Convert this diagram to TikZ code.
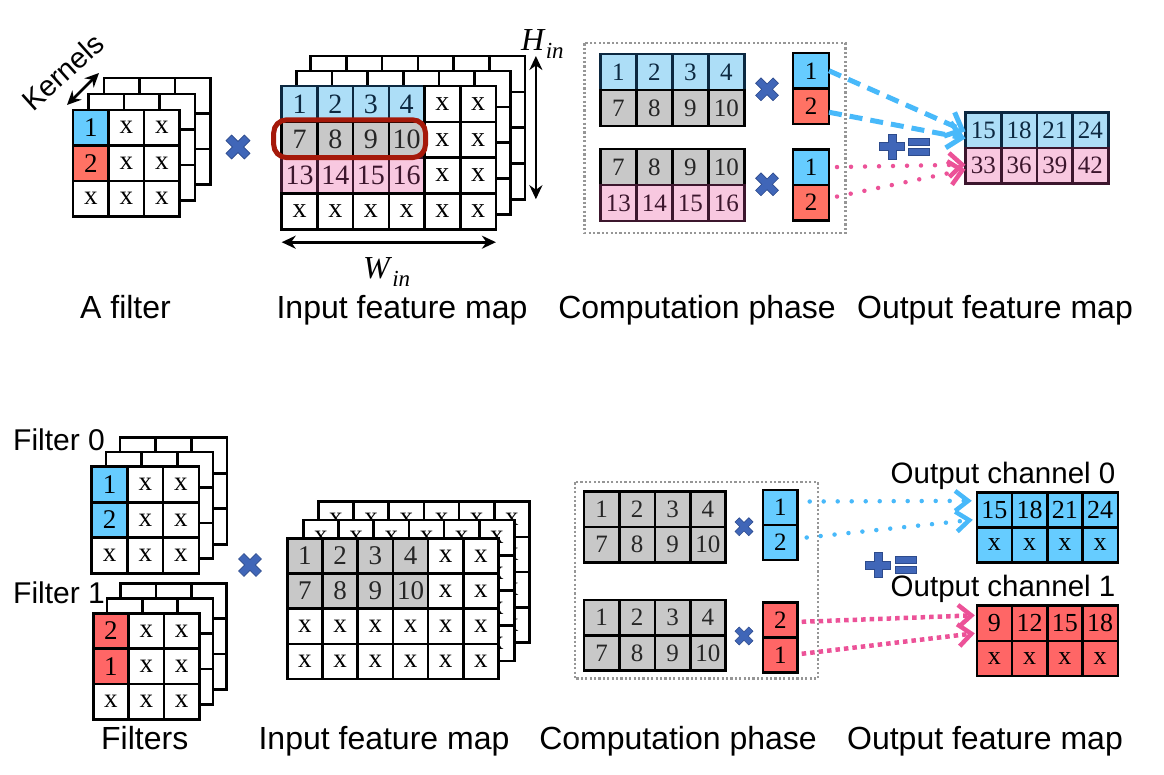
\documentclass[tikz,border=0pt]{standalone}
\usepackage{fontspec}
\setmainfont{Liberation Serif}
\setsansfont{Liberation Sans}
\usetikzlibrary{arrows.meta}

\definecolor{kblue}{RGB}{102,204,255}
\definecolor{kred}{RGB}{255,114,100}
\definecolor{kredb}{RGB}{255,102,102}
\definecolor{lblue}{RGB}{173,222,247}
\definecolor{lgray}{RGB}{200,200,200}
\definecolor{lpink}{RGB}{248,200,224}
\definecolor{navy}{RGB}{12,40,64}
\definecolor{plum}{RGB}{60,22,45}
\definecolor{arrblue}{RGB}{72,185,250}
\definecolor{arrpink}{RGB}{236,82,152}
\definecolor{xblue}{RGB}{64,102,184}
\definecolor{xedge}{RGB}{45,75,140}
\definecolor{ringred}{RGB}{165,25,10}
\definecolor{boxgray}{RGB}{150,150,150}

\tikzset{
  cell/.style n args={3}{draw=black, line width=2.6pt, fill=white, text=black,
    minimum width=#1pt, minimum height=#2pt, inner sep=0pt, outer sep=0pt,
    anchor=north west, font=\fontsize{#3}{#3}\selectfont},
  cw/.style={},
  lb/.style={fill=lblue, draw=navy, text=navy},
  gr/.style={fill=lgray, text=black!85},
  pk/.style={fill=lpink, draw=plum, text=plum},
  kb/.style={fill=kblue},
  kr/.style={fill=kred},
  krb/.style={fill=kredb},
  lbl/.style={font=\sffamily\fontsize{32}{32}\selectfont, anchor=base, inner sep=0pt},
  chan/.style={font=\sffamily\fontsize{29.5}{29.5}\selectfont, anchor=base west, inner sep=0pt},
  dim/.style={<->, >={Stealth[length=14pt,width=13pt]}, line width=2.6pt},
  ring/.style={draw=ringred, line width=5pt, rounded corners=13pt},
  compbox/.style={draw=boxgray, line width=2.2pt, dash pattern=on 2.2pt off 2.2pt},
  bluedash/.style={draw=arrblue, line width=5pt, dash pattern=on 13pt off 8pt,
    -{Straight Barb[length=14pt,width=26pt]}},
  pinkdot/.style={draw=arrpink, line width=4.5pt, line cap=round, dash pattern=on 0pt off 14pt,
    -{Straight Barb[length=13pt,width=24pt]}},
  bluedot/.style={draw=arrblue, line width=4.5pt, line cap=round, dash pattern=on 0pt off 14pt,
    -{Straight Barb[length=13pt,width=20pt]}},
  pinksq/.style={draw=arrpink, line width=4.5pt, dash pattern=on 4.5pt off 4pt,
    -{Straight Barb[length=13pt,width=22pt]}},
  mul/.pic={\filldraw[fill=xblue, draw=xedge, line width=0.6pt, rotate=45]
    (-4,-13)--(4,-13)--(4,-4)--(13,-4)--(13,4)--(4,4)--(4,13)--(-4,13)--(-4,4)--(-13,4)--(-13,-4)--(-4,-4)--cycle;},
  plusmark/.pic={\filldraw[fill=xblue, draw=xedge, line width=0.8pt]
    (-4,-12.5)--(4,-12.5)--(4,-4)--(12.5,-4)--(12.5,4)--(4,4)--(4,12.5)--(-4,12.5)--(-4,4)--(-12.5,4)--(-12.5,-4)--(-4,-4)--cycle;},
  eqmark/.pic={\filldraw[fill=xblue, draw=xedge, line width=0.8pt]
    (-10.5,-8.5) rectangle (10.5,-1.5) (-10.5,1.5) rectangle (10.5,8.5);}
}

% name, x, y, cell width, cell height, font size, rows
\newcommand\cellgrid[7]{%
  \foreach \row [count=\rw] in {#7}{%
    \foreach \val/\sty [count=\cl] in \row{%
      \node[cell={#4}{#5}{#6},\sty] (#1-\rw-\cl) at ({#2+(\cl-1)*#4},{#3+(\rw-1)*#5}) {\val};}}}
% name, x, y, cell width, cell height, cols, rows, font size, text
\newcommand\backgrid[9]{%
  \foreach \rw in {1,...,#7}{%
    \foreach \cl in {1,...,#6}{%
      \node[cell={#4}{#5}{#8}] (#1-\rw-\cl) at ({#2+(\cl-1)*#4},{#3+(\rw-1)*#5}) {#9};}}}

\begin{document}
\begin{tikzpicture}[x=1pt,y=-1pt]
\useasboundingbox (0,0) rectangle (1164,774);

% ---- top: one filter ----
\backgrid{fl3}{104}{78}{35.5}{35.5}{3}{3}{27}{}
\backgrid{fl2}{88.5}{94}{35.5}{35.5}{3}{3}{27}{}
\cellgrid{fl}{73}{110}{35.5}{35.5}{27}{{1/kb,x/cw,x/cw},{2/kr,x/cw,x/cw},{x/cw,x/cw,x/cw}}
\node[font=\sffamily\fontsize{29}{29}\selectfont, rotate=42] (kern) at (63,72) {Kernels};
\draw[dim] ([shift={(-6,-5)}]fl-1-1.north west) -- ([shift={(-5,-5)}]fl3-1-1.north west);
\pic at (238,147) {mul};

% ---- top: input feature map ----
\backgrid{ti3}{310.7}{56}{35.7}{35.8}{6}{4}{28}{}
\backgrid{ti2}{296.2}{71}{35.7}{35.8}{6}{4}{28}{}
\cellgrid{ti}{281.7}{86}{35.7}{35.8}{28}{{1/lb,2/lb,3/lb,4/lb,x/cw,x/cw},{7/gr,8/gr,9/gr,10/gr,x/cw,x/cw},{13/pk,14/pk,15/pk,16/pk,x/cw,x/cw},{x/cw,x/cw,x/cw,x/cw,x/cw,x/cw}}
\draw[ring] ([shift={(-8,-2)}]ti-2-1.north west) rectangle ([shift={(1,0)}]ti-2-4.south east);
\draw[dim] ([xshift=11pt]ti3-1-6.north east) -- ([xshift=11pt]ti3-4-6.south east);
\draw[dim] ([yshift=-13pt]ti-4-1.south west) -- ([yshift=-13pt]ti-4-6.south east);
\node[anchor=base west, inner sep=0pt, font=\fontsize{32}{32}\selectfont] (hin) at (521,50)
  {\textit{H}\raisebox{-8pt}{\fontsize{23}{23}\selectfont\textit{in}}};
\node[anchor=base west, inner sep=0pt, font=\fontsize{32}{32}\selectfont] (win) at (363,278)
  {\textit{W}\raisebox{-8pt}{\fontsize{23}{23}\selectfont\textit{in}}};

% ---- top: computation phase ----
\draw[compbox] (584.4,43.3) rectangle (845.4,232.7);
\cellgrid{ca}{600.3}{54}{36}{36}{25}{{1/lb,2/lb,3/lb,4/lb},{7/gr,8/gr,9/gr,10/gr}}
\cellgrid{cb}{600.3}{149}{36}{36}{25}{{7/gr,8/gr,9/gr,10/gr},{13/pk,14/pk,15/pk,16/pk}}
\cellgrid{ka}{793}{53}{36}{35.5}{25}{{1/kb},{2/kr}}
\cellgrid{kb}{793}{149.3}{36}{35.5}{25}{{1/kb},{2/kr}}
\pic[scale=0.95] at (767,89.3) {mul};
\pic[scale=0.95] at (767,184.3) {mul};

% ---- top: output feature map ----
\cellgrid{oa}{965.5}{112.7}{35.7}{35.3}{25}{{15/lb,18/lb,21/lb,24/lb},{33/pk,36/pk,39/pk,42/pk}}
\draw[bluedash] (ka-1-1.east) -- ([yshift=-1pt]oa-1-1.west);
\draw[bluedash] ([yshift=-6pt]ka-2-1.east) -- ([yshift=-8pt]oa-1-1.west);
\draw[pinkdot] ([xshift=8pt]kb-1-1.east) -- ([yshift=1pt]oa-2-1.west);
\draw[pinkdot] ([xshift=8pt,yshift=6pt]kb-2-1.east) -- ([yshift=-4pt]oa-2-1.west);
\pic at (892,146.7) {plusmark};
\pic at (919,146.7) {eqmark};

\node[lbl] (lfilter) at (125.5,318) {A filter};
\node[lbl] (linput) at (402,318) {Input feature map};
\node[lbl] (lcomp) at (697,318) {Computation phase};
\node[lbl] (lout) at (995,318) {Output feature map};

% ---- bottom: filters ----
\backgrid{fa3}{120}{437.7}{35.7}{35.5}{3}{3}{27}{}
\backgrid{fa2}{106}{452}{35.7}{35.5}{3}{3}{27}{}
\cellgrid{fa}{91.7}{466.7}{35.7}{35.5}{27}{{1/kb,x/cw,x/cw},{2/kb,x/cw,x/cw},{x/cw,x/cw,x/cw}}
\backgrid{fb3}{120.7}{583.3}{35.3}{35.3}{3}{3}{27}{}
\backgrid{fb2}{107}{598.3}{35.3}{35.3}{3}{3}{27}{}
\cellgrid{fb}{93.3}{613.3}{35.3}{35.3}{27}{{2/krb,x/cw,x/cw},{1/krb,x/cw,x/cw},{x/cw,x/cw,x/cw}}
\node[chan, font=\sffamily\fontsize{30}{30}\selectfont] (f0) at (13,450) {Filter 0};
\node[chan, font=\sffamily\fontsize{30}{30}\selectfont] (f1) at (13,603) {Filter 1};
\pic[scale=0.95] at (250,565) {mul};

% ---- bottom: input feature map ----
\backgrid{bi3}{318.3}{501.7}{35.2}{35.2}{6}{4}{27}{x}
\backgrid{bi2}{303.3}{520}{35.2}{35.2}{6}{4}{27}{x}
\cellgrid{bi}{287.3}{538.3}{35.2}{35.2}{27}{{1/gr,2/gr,3/gr,4/gr,x/cw,x/cw},{7/gr,8/gr,9/gr,10/gr,x/cw,x/cw},{x/cw,x/cw,x/cw,x/cw,x/cw,x/cw},{x/cw,x/cw,x/cw,x/cw,x/cw,x/cw}}

% ---- bottom: computation phase ----
\draw[compbox] (574.6,482.3) rectangle (818,678.5);
\cellgrid{cc}{584}{491.7}{35.4}{35.3}{25}{{1/gr,2/gr,3/gr,4/gr},{7/gr,8/gr,9/gr,10/gr}}
\cellgrid{cd}{584}{600}{35.4}{35.3}{25}{{1/gr,2/gr,3/gr,4/gr},{7/gr,8/gr,9/gr,10/gr}}
\cellgrid{kc}{763}{490}{34.7}{35}{25}{{1/kb},{2/kb}}
\cellgrid{kd}{763}{602.3}{34.7}{35}{25}{{2/krb},{1/krb}}
\pic[scale=0.75] at (744,526.7) {mul};
\pic[scale=0.75] at (744,636) {mul};

% ---- bottom: output channels ----
\cellgrid{oc}{976.8}{492.3}{35.25}{35}{26}{{15/kb,18/kb,21/kb,24/kb},{x/kb,x/kb,x/kb,x/kb}}
\cellgrid{od}{976.8}{605.7}{35.25}{35.2}{26}{{9/krb,12/krb,15/krb,18/krb},{x/krb,x/krb,x/krb,x/krb}}
\node[chan] (ch0) at (890.5,483.3) {Output channel 0};
\node[chan] (ch1) at (890.5,596.7) {Output channel 1};
\draw[bluedot] ([xshift=12pt,yshift=6pt]kc-1-1.east) -- ([xshift=-5pt,yshift=9pt]oc-1-1.west);
\draw[bluedot] ([xshift=9pt,yshift=5pt]kc-2-1.east) -- ([xshift=-4pt,yshift=-10pt]oc-1-1.west);
\draw[pinksq] ([xshift=4pt,yshift=-2pt]kd-1-1.east) -- ([xshift=-2pt,yshift=8pt]od-1-1.west);
\draw[pinksq] ([xshift=4pt,yshift=1pt]kd-2-1.east) -- ([xshift=-2pt,yshift=-10pt]od-1-1.west);
\pic at (878,565) {plusmark};
\pic at (906,565) {eqmark};

\node[lbl] (lfilters) at (144.7,749) {Filters};
\node[lbl] (linput2) at (384,749) {Input feature map};
\node[lbl] (lcomp2) at (678,749) {Computation phase};
\node[lbl] (lout2) at (985,749) {Output feature map};
\end{tikzpicture}
\end{document}
